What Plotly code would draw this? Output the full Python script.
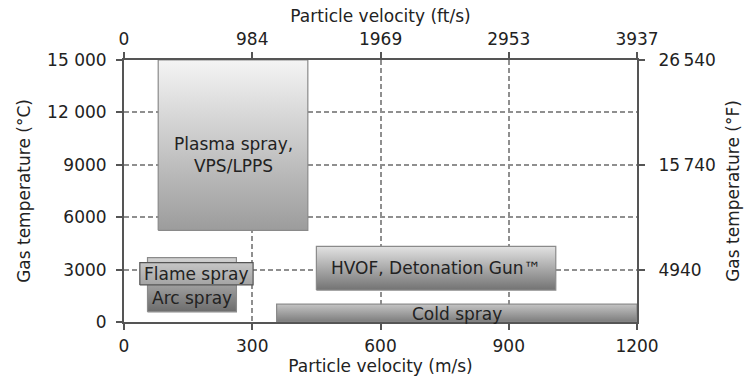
import plotly.graph_objects as go

# Process operating windows: particle velocity (m/s) vs. gas temperature (deg C)
processes = ["Plasma spray,<br>VPS/LPPS", "Arc spray", "Flame spray",
             "HVOF, Detonation Gun™", "Cold spray"]
vel_min = [80, 55, 37, 450, 357]
vel_max = [430, 263, 302, 1010, 1200]
temp_min = [5250, 585, 2120, 1830, 0]
temp_max = [15000, 3690, 3400, 4330, 1020]
# gradient colours (bottom, top) and outline colour for each box
grad_bottom = ["#9c9c9c", "#6c6c6c", "#a4a4a4", "#737373", "#7c7c7c"]
grad_top = ["#f4f4f4", "#d4d4d4", "#c6c6c6", "#e2e2e2", "#c4c4c4"]
edge = ["#8a8a8a", "#8a8a8a", "#555555", "#8a8a8a", "#8a8a8a"]
# label anchor inside each box, as fractions of the box (x, y)
label_frac = [(0.5, 0.44), (0.5, 0.25), (0.5, 0.5), (0.5, 0.5), (0.5, 0.45)]

# Axis ticks
x_ticks = [0, 300, 600, 900, 1200]
x_ticks_fts = [0, 984, 1969, 2953, 3937]
y_ticks = [0, 3000, 6000, 9000, 12000, 15000]
y_tick_text = ["0", "3000", "6000", "9000", "12 000", "15 000"]
y_ticks_f = [4940, 15740, 26540]
y_tick_text_f = ["4940", "15\u2009740", "26\u2009540"]

FONT = "DejaVu Sans"
TXT = "#222222"
AX = "#555555"
GRID = "#8f8f8f"

fig = go.Figure()

for i, name in enumerate(processes):
    x0, x1 = vel_min[i], vel_max[i]
    y0, y1 = temp_min[i], temp_max[i]
    fig.add_trace(go.Scatter(
        x=[x0, x1, x1, x0, x0], y=[y0, y0, y1, y1, y0],
        mode="lines", fill="toself",
        line=dict(color=edge[i], width=1.2),
        fillgradient=dict(type="vertical",
                          colorscale=[[0, grad_bottom[i]], [1, grad_top[i]]]),
        hoverinfo="skip", showlegend=False,
    ))
    fx, fy = label_frac[i]
    fig.add_annotation(
        x=x0 + fx * (x1 - x0), y=y0 + fy * (y1 - y0),
        text=name, showarrow=False,
        font=dict(family=FONT, size=17, color=TXT),
        xanchor="center", yanchor="middle",
    )

# invisible traces that carry the secondary (ft/s, deg F) axes
fig.add_trace(go.Scatter(x=[0, 3937], y=[None, None], xaxis="x2",
                         mode="markers", showlegend=False, hoverinfo="skip"))
fig.add_trace(go.Scatter(x=[None, None], y=[-460, 26540], yaxis="y2",
                         mode="markers", showlegend=False, hoverinfo="skip"))

tickfont = dict(family=FONT, size=17, color=TXT)
titlefont = dict(family=FONT, size=17, color=TXT)
common = dict(showline=True, linecolor=AX, linewidth=2, ticks="outside",
              ticklen=6, tickwidth=1.5, tickcolor=AX, tickfont=tickfont,
              zeroline=False, automargin=False)

fig.update_layout(
    width=752, height=379,
    margin=dict(l=124, r=115, t=60, b=57),
    paper_bgcolor="white", plot_bgcolor="white",
    xaxis=dict(range=[0, 1200], tickvals=x_ticks, showgrid=True,
               gridcolor=GRID, griddash="5px,3px", gridwidth=1.5,
               title=dict(text="Particle velocity (m/s)", font=titlefont,
                          standoff=5),
               ticklabelstandoff=2, **common),
    xaxis2=dict(range=[0, 3937], tickvals=x_ticks_fts, overlaying="x",
                side="top", showgrid=False,
                title=dict(text="Particle velocity (ft/s)", font=titlefont,
                           standoff=2),
                **common),
    yaxis=dict(range=[0, 15000], tickvals=y_ticks, ticktext=y_tick_text,
               showgrid=True, gridcolor=GRID, griddash="5px,3px",
               gridwidth=1.5,
               title=dict(text="Gas temperature (°C)", font=titlefont,
                          standoff=12),
               ticklabelstandoff=6, **common),
    yaxis2=dict(range=[-460, 26540], tickvals=y_ticks_f,
                ticktext=y_tick_text_f, overlaying="y",
                side="right", showgrid=False,
                title=dict(text="Gas temperature (°F)", font=titlefont,
                           standoff=12),
                ticklabelstandoff=10, **common),
)

fig.write_html("out.html")
